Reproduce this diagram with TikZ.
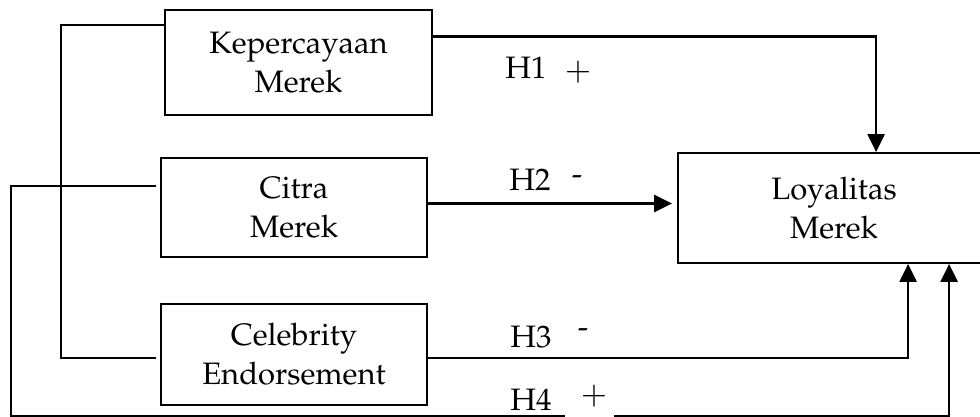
\documentclass[tikz,border=0pt]{standalone}
\usepackage[T1]{fontenc}
\usepackage{mathpazo}
\usepackage{tikz}
\usetikzlibrary{arrows.meta}

\tikzset{
    varbox/.style={draw, line width=0.9pt, align=center, inner sep=0pt,
        minimum width=133pt, minimum height=51pt,
        font=\fontsize{15.5}{19.5}\selectfont},
    hyplabel/.style={inner sep=0pt, font=\fontsize{15.5}{17}\selectfont},
    signlabel/.style={inner sep=0pt, font=\fontsize{16}{18}\selectfont},
    link/.style={line width=0.9pt},
    arr/.style={line width=1.2pt, -{Triangle[length=9pt,width=8.5pt]}}
}

\begin{document}
\begin{tikzpicture}[x=0.5pt, y=-0.5pt]

\clip (0,0) rectangle (980,417);

% variables
\node[varbox, minimum width=133.5pt, minimum height=52.5pt] (kep) at (298.5,62.5)
    {Kepercayaan\\Merek};
\node[varbox, minimum height=49.5pt] (citra) at (294,207.5)
    {Citra\\Merek};
\node[varbox, minimum height=50.5pt] (celeb) at (294,354.5)
    {Celebrity\\Endorsement};
\node[varbox, minimum width=156pt, minimum height=55pt] (loyal) at (834,208)
    {Loyalitas\\Merek};

\coordinate (inner) at (61,358);
\coordinate (outer) at (11,416.5);

% brackets
\draw[link] ([yshift=18.75pt]kep.west) -| (inner) -- ([shift={(-2pt,-1.75pt)}]celeb.west);
\draw[arr] ([shift={(-2pt,10.75pt)}]citra.west) -| (outer) -| ([xshift=136pt]loyal.south west);

% hypotheses
\draw[arr] (kep.11) -| ([xshift=99.5pt]loyal.north west);
\draw[arr, line width=1.5pt, shorten >=2.5pt] ([yshift=2pt]citra.east) -- ([yshift=2pt]citra.east -| loyal.west);
\draw[arr] ([yshift=-1.75pt]celeb.east) -| ([xshift=115.5pt]loyal.south west);

% labels
\node[hyplabel] (h1) at (526,68) {H1};
\node[signlabel] (s1) at (578,72) {$+$};
\node[hyplabel] (h2) at (530,180) {H2};
\node[hyplabel] (s2) at (577,180) {-};
\node[hyplabel] (h3) at (531,337) {H3};
\node[hyplabel] (s3) at (583,333) {-};
\node[hyplabel] (h4) at (531,400) {H4};
\node[inner sep=0pt, fill=white, minimum width=24.5pt, minimum height=12pt] (s4) at (589,408) {};
\node[signlabel] (s4t) at (594,396) {$+$};

\end{tikzpicture}
\end{document}
